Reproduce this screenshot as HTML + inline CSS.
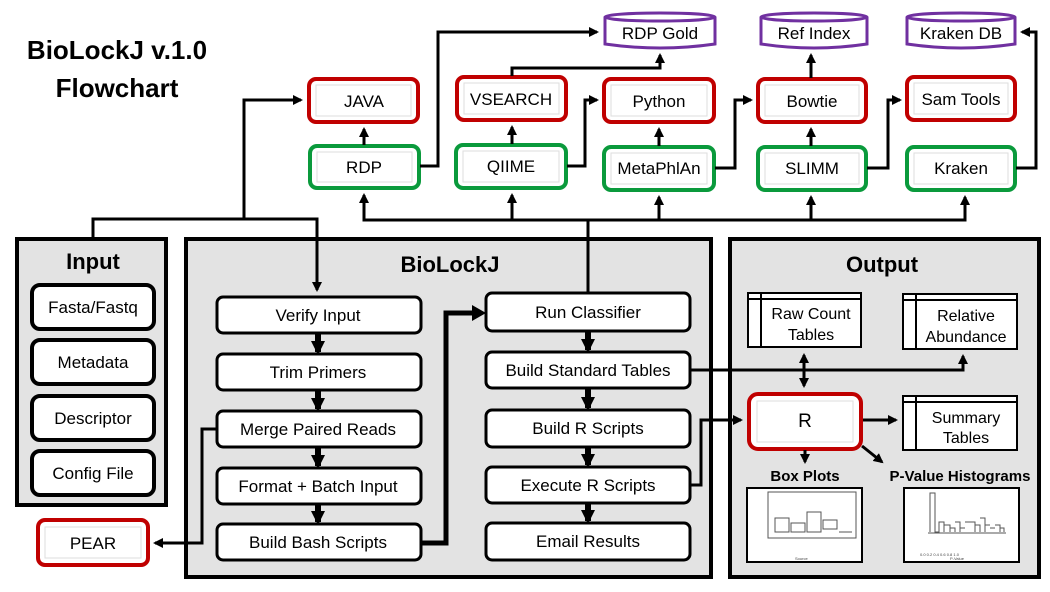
<!DOCTYPE html>
<html><head><meta charset="utf-8"><style>
html,body{margin:0;padding:0;background:#fff;}
svg{display:block;}
text{font-family:"Liberation Sans",sans-serif;}
</style></head><body>
<svg width="1050" height="592" viewBox="0 0 1050 592" xmlns="http://www.w3.org/2000/svg">
<defs>
<marker id="a" markerWidth="10" markerHeight="10" refX="8" refY="5" orient="auto" markerUnits="userSpaceOnUse"><path d="M0,0 L10,5 L0,10 z" fill="#000"/></marker>
<marker id="b" markerWidth="14" markerHeight="14" refX="11" refY="7" orient="auto" markerUnits="userSpaceOnUse"><path d="M0,0 L14,7 L0,14 z" fill="#000"/></marker>
<marker id="s" markerWidth="10" markerHeight="10" refX="2" refY="5" orient="auto" markerUnits="userSpaceOnUse"><path d="M10,0 L0,5 L10,10 z" fill="#000"/></marker>
</defs>

<!-- title -->
<text x="117" y="59" font-size="26" font-weight="bold" text-anchor="middle">BioLockJ v.1.0</text>
<text x="117" y="97" font-size="26" font-weight="bold" text-anchor="middle">Flowchart</text>

<!-- panels -->
<rect x="17" y="239" width="149" height="266" fill="#e3e3e3" stroke="#000" stroke-width="4"/>
<rect x="186" y="239" width="525" height="338" fill="#e3e3e3" stroke="#000" stroke-width="4"/>
<rect x="730" y="239" width="309" height="338" fill="#e3e3e3" stroke="#000" stroke-width="4"/>
<text x="93" y="269" font-size="22" font-weight="bold" text-anchor="middle">Input</text>
<text x="450" y="272" font-size="22" font-weight="bold" text-anchor="middle">BioLockJ</text>
<text x="882" y="272" font-size="22" font-weight="bold" text-anchor="middle">Output</text>

<!-- input items -->
<g stroke="#000" stroke-width="4" fill="#fff">
<rect x="32" y="285" width="122" height="44" rx="8"/>
<rect x="32" y="340" width="122" height="44" rx="8"/>
<rect x="32" y="396" width="122" height="44" rx="8"/>
<rect x="32" y="451" width="122" height="44" rx="8"/>
</g>
<g font-size="17" text-anchor="middle">
<text x="93" y="313">Fasta/Fastq</text>
<text x="93" y="368">Metadata</text>
<text x="93" y="424">Descriptor</text>
<text x="93" y="479">Config File</text>
</g>

<!-- biolockj steps -->
<g stroke="#000" stroke-width="3" fill="#fff">
<rect x="217" y="297" width="204" height="36" rx="6"/>
<rect x="217" y="354" width="204" height="36" rx="6"/>
<rect x="217" y="411" width="204" height="36" rx="6"/>
<rect x="217" y="468" width="204" height="36" rx="6"/>
<rect x="217" y="524" width="204" height="36" rx="6"/>
<rect x="486" y="293" width="204" height="38" rx="6"/>
<rect x="486" y="352" width="204" height="36" rx="6"/>
<rect x="486" y="410" width="204" height="37" rx="6"/>
<rect x="486" y="467" width="204" height="36" rx="6"/>
<rect x="486" y="523" width="204" height="37" rx="6"/>
</g>
<g font-size="17" text-anchor="middle">
<text x="318" y="321">Verify Input</text>
<text x="318" y="378">Trim Primers</text>
<text x="318" y="435">Merge Paired Reads</text>
<text x="318" y="492">Format + Batch Input</text>
<text x="318" y="548">Build Bash Scripts</text>
<text x="588" y="318">Run Classifier</text>
<text x="588" y="376">Build Standard Tables</text>
<text x="588" y="434">Build R Scripts</text>
<text x="588" y="491">Execute R Scripts</text>
<text x="588" y="547">Email Results</text>
</g>
<!-- thick down arrows -->
<g stroke="#000" stroke-width="6" marker-end="url(#b)">
<line x1="318" y1="334" x2="318" y2="352"/>
<line x1="318" y1="391" x2="318" y2="409"/>
<line x1="318" y1="448" x2="318" y2="466"/>
<line x1="318" y1="505" x2="318" y2="522"/>
<line x1="588" y1="332" x2="588" y2="350"/>
<line x1="588" y1="389" x2="588" y2="408"/>
<line x1="588" y1="448" x2="588" y2="465"/>
<line x1="588" y1="504" x2="588" y2="521"/>
</g>
<polyline points="422,543 446,543 446,313 476,313" fill="none" stroke="#000" stroke-width="5"/>
<path d="M472,305 L486,313 L472,321 z" fill="#000"/>

<!-- top boxes -->
<g fill="#fff" stroke-width="4">
<g stroke="#c00000">
<rect x="309" y="79" width="109" height="43" rx="7"/>
<rect x="457" y="77" width="109" height="43" rx="7"/>
<rect x="604" y="79" width="110" height="43" rx="7"/>
<rect x="758" y="79" width="108" height="43" rx="7"/>
<rect x="907" y="77" width="108" height="43" rx="7"/>
<rect x="38" y="520" width="110" height="45" rx="7"/>
<rect x="749" y="394" width="112" height="55" rx="9"/>
</g>
<g stroke="#0a9a3c">
<rect x="310" y="146" width="109" height="42" rx="7"/>
<rect x="456" y="145" width="110" height="43" rx="7"/>
<rect x="604" y="147" width="110" height="43" rx="7"/>
<rect x="758" y="147" width="108" height="43" rx="7"/>
<rect x="907" y="147" width="108" height="43" rx="7"/>
</g>
</g>
<g fill="none" stroke="#ddd" stroke-width="1">
<rect x="316" y="85" width="95" height="31"/><rect x="464" y="83" width="95" height="31"/>
<rect x="611" y="85" width="96" height="31"/><rect x="765" y="85" width="94" height="31"/>
<rect x="914" y="83" width="94" height="31"/><rect x="45" y="527" width="96" height="31"/>
<rect x="757" y="401" width="96" height="41"/>
<rect x="317" y="152" width="95" height="30"/><rect x="463" y="151" width="96" height="31"/>
<rect x="611" y="153" width="96" height="31"/><rect x="765" y="153" width="94" height="31"/>
<rect x="914" y="153" width="94" height="31"/>
</g>
<g font-size="17" text-anchor="middle">
<text x="364" y="107">JAVA</text>
<text x="511" y="105">VSEARCH</text>
<text x="659" y="107">Python</text>
<text x="812" y="107">Bowtie</text>
<text x="961" y="105">Sam Tools</text>
<text x="93" y="549">PEAR</text>
<text x="364" y="173">RDP</text>
<text x="511" y="172">QIIME</text>
<text x="659" y="174">MetaPhlAn</text>
<text x="812" y="174">SLIMM</text>
<text x="961" y="174">Kraken</text>
<text x="805" y="427" font-size="19">R</text>
</g>

<!-- cylinders -->
<g fill="#fff" stroke="#7030a0" stroke-width="3">
<path d="M605,17 L605,44 Q660,52 715,44 L715,17"/><ellipse cx="660" cy="17" rx="55" ry="4"/>
<path d="M761,17 L761,44 Q814,52 867,44 L867,17"/><ellipse cx="814" cy="17" rx="53" ry="4"/>
<path d="M907,17 L907,44 Q961,52 1015,44 L1015,17"/><ellipse cx="961" cy="17" rx="54" ry="4"/>
</g>
<g font-size="17" text-anchor="middle">
<text x="660" y="39">RDP Gold</text>
<text x="814" y="39">Ref Index</text>
<text x="961" y="39">Kraken DB</text>
</g>

<!-- top connectors -->
<g fill="none" stroke="#000" stroke-width="3">
<polyline points="93,237 93,219 317,219 317,290" marker-end="url(#a)"/>
<polyline points="244,219 244,100 301,100" marker-end="url(#a)"/>
<polyline points="364,200 364,220 965,220 965,198" />
<line x1="364" y1="220" x2="364" y2="195" marker-end="url(#a)"/>
<line x1="512" y1="220" x2="512" y2="195" marker-end="url(#a)"/>
<line x1="659" y1="220" x2="659" y2="197" marker-end="url(#a)"/>
<line x1="811" y1="220" x2="811" y2="197" marker-end="url(#a)"/>
<line x1="965" y1="220" x2="965" y2="197" marker-end="url(#a)"/>
<line x1="588" y1="220" x2="588" y2="292"/>
<line x1="364" y1="145" x2="364" y2="129" marker-end="url(#a)"/>
<line x1="512" y1="144" x2="512" y2="127" marker-end="url(#a)"/>
<line x1="659" y1="146" x2="659" y2="129" marker-end="url(#a)"/>
<line x1="811" y1="146" x2="811" y2="129" marker-end="url(#a)"/>
<line x1="811" y1="78" x2="811" y2="55" marker-end="url(#a)"/>
<polyline points="420,166 438,166 438,32 597,32" marker-end="url(#a)"/>
<polyline points="512,76 512,68 660,68 660,55" marker-end="url(#a)"/>
<polyline points="567,166 585,166 585,100 597,100" marker-end="url(#a)"/>
<polyline points="715,168 735,168 735,100 751,100" marker-end="url(#a)"/>
<polyline points="867,168 888,168 888,100 900,100" marker-end="url(#a)"/>
<polyline points="1016,168 1036,168 1036,32 1022,32" marker-end="url(#a)"/>
<polyline points="216,429 202,429 202,543 155,543" marker-end="url(#a)"/>
<polyline points="691,370 963,370 963,356" marker-end="url(#a)"/>
<polyline points="691,485 701,485 701,420 741,420" marker-end="url(#a)"/>
<line x1="804" y1="355" x2="804" y2="386" marker-start="url(#s)" marker-end="url(#a)"/>
<line x1="863" y1="420" x2="896" y2="420" marker-end="url(#a)"/>
<line x1="805" y1="450" x2="805" y2="462" marker-end="url(#a)"/>
<line x1="862" y1="446" x2="882" y2="462" marker-end="url(#a)"/>
</g>

<!-- tables -->
<g fill="#fff" stroke="#000" stroke-width="2">
<rect x="748" y="293" width="113" height="54"/>
<rect x="903" y="294" width="114" height="55"/>
<rect x="903" y="396" width="114" height="54"/>
</g>
<g stroke="#000" stroke-width="2">
<line x1="748" y1="299" x2="861" y2="299"/><line x1="761" y1="293" x2="761" y2="347"/>
<line x1="903" y1="300" x2="1017" y2="300"/><line x1="916" y1="294" x2="916" y2="349"/>
<line x1="903" y1="402" x2="1017" y2="402"/><line x1="916" y1="396" x2="916" y2="450"/>
</g>
<g font-size="16" text-anchor="middle">
<text x="811" y="319">Raw Count</text><text x="811" y="340">Tables</text>
<text x="966" y="321">Relative</text><text x="966" y="342">Abundance</text>
<text x="966" y="423">Summary</text><text x="966" y="443">Tables</text>
</g>
<text x="805" y="481" font-size="15" font-weight="bold" text-anchor="middle">Box Plots</text>
<text x="960" y="481" font-size="15" font-weight="bold" text-anchor="middle">P-Value Histograms</text>

<!-- plots -->
<rect x="747" y="488" width="115" height="74" fill="#fff" stroke="#000" stroke-width="2"/>
<rect x="904" y="488" width="115" height="74" fill="#fff" stroke="#000" stroke-width="2"/>
<g fill="none" stroke="#555" stroke-width="1">
<rect x="768" y="492" width="88" height="46"/>
<rect x="775" y="518" width="14" height="14"/><rect x="791" y="523" width="14" height="9"/>
<rect x="807" y="512" width="14" height="20"/><rect x="823" y="520" width="14" height="9"/>
<line x1="839" y1="532" x2="852" y2="532"/>
<polyline points="930,532 930,493 935,493 935,532 939,532 939,522 944,522 944,532"/>
<path d="M944,525 h6 v7 M950,528 h5 v4 M955,522 h5 v10 M960,528 h5 M965,522 h10 v10 M975,525 h5 v7 M980,518 h5 v14 M985,525 h5 M990,528 h5 M995,525 h5 v7 M1000,528 h4 v4 M928,533 h78"/>
</g>
<g font-size="4" fill="#444">
<text x="920" y="556">0.0  0.2  0.4  0.6  0.8  1.0</text>
<text x="950" y="560">P-Value</text>
<text x="795" y="560">Source</text>
</g>
</svg>
</body></html>
